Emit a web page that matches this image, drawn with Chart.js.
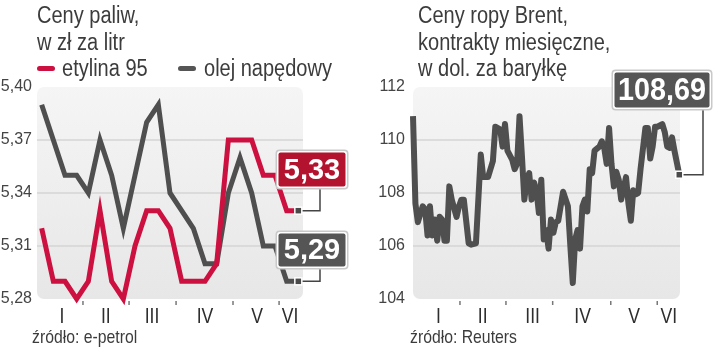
<!DOCTYPE html>
<html lang="pl">
<head>
<meta charset="utf-8">
<script src="https://cdn.jsdelivr.net/npm/chart.js@4.4.0/dist/chart.umd.min.js"></script>
<style>
body{margin:0;background:#fff;}
#wrap{position:relative;width:720px;height:351px;overflow:hidden;font-family:"Liberation Sans",Arial,sans-serif;color:#3c3c3c;}
canvas{position:absolute;top:0;}
.t{position:absolute;font-size:23px;line-height:26.5px;white-space:nowrap;transform:scaleX(0.87);transform-origin:0 0;}
.src{position:absolute;top:327px;font-size:19px;line-height:19px;white-space:nowrap;transform:scaleX(0.83);transform-origin:0 0;}
.dash{position:absolute;top:66px;width:18px;height:5px;border-radius:3px;}
</style>
</head>
<body>
<div id="wrap">
  <canvas id="fuel" width="360" height="351" style="left:0"></canvas>
  <canvas id="brent" width="360" height="351" style="left:360px"></canvas>

  <div class="t" style="left:37px;top:2px">Ceny paliw,<br>w zł za litr</div>
  <div class="dash" style="left:37px;background:#cc1040"></div>
  <div class="t" style="left:62px;top:55px">etylina 95</div>
  <div class="dash" style="left:178px;background:#555"></div>
  <div class="t" style="left:204px;top:55px">olej napędowy</div>
  <div class="src" style="left:32px">źródło: e-petrol</div>

  <div class="t" style="left:418px;top:2px">Ceny ropy Brent,<br>kontrakty miesięczne,<br>w dol. za baryłkę</div>
  <div class="src" style="left:410px">źródło: Reuters</div>
</div>
<script>
// ceny paliw, tygodniowo (styczeń - czerwiec)
var weeks = [0,1,2,3,4,5,6,7,8,9,10,11,12,13,14,15,16,17,18,19,20,21,22];
var etylina = [5.32,5.29,5.29,5.28,5.29,5.33,5.29,5.28,5.31,5.33,5.33,5.32,5.29,5.29,5.29,5.30,5.37,5.37,5.37,5.35,5.35,5.33,5.33];
var olej = [5.39,5.37,5.35,5.35,5.34,5.37,5.35,5.32,5.35,5.38,5.39,5.34,5.33,5.32,5.30,5.30,5.34,5.36,5.34,5.31,5.31,5.29,5.29];
var fuelTicks = [5.40,5.37,5.34,5.31,5.28];
var fuelGrid = [5.37,5.34,5.31];

// ropa Brent, notowania dzienne
var brentDays = [0,1,2,3,4,5,6,7,8,9,10,11,12,13,14,15,16,18,19,20,21,23,24,26,28,29,31,32,33,34,36,37,38,39,41,42,43,44,45,46,47,48,49,50,51,52,53,54,55,56,57,58,59,60,61,62,64,65,66,67,68,69,70,71,72,73,74,75,77,78,79,80,81,82,83,84,85,86,88,89,90,91,92,93,94,96,97,98,99,100,101,103,104,105,106,107,108,110];
var brent = [110.9,107.6,106.9,107.2,107.5,107.4,106.4,107.5,106.4,107.0,106.2,107.1,107.0,106.2,106.2,108.25,107.75,107.1,107.5,107.75,107.75,106.1,106.05,106.1,109.45,108.6,108.6,108.9,109.2,110.5,110.4,109.75,110.6,109.6,109.25,108.9,109.1,110.9,109.4,107.75,108.5,108.75,107.75,108.4,108.1,107.25,108.5,106.25,106.6,105.9,107.0,106.5,106.9,106.95,107.5,108.05,107.5,106.0,104.6,106.25,106.6,105.9,107.5,107.75,107.3,108.9,108.75,109.6,109.75,109.95,109.7,109.1,110.45,109.1,108.25,108.8,108.5,107.75,108.6,107.6,106.95,108.1,107.95,108.0,108.9,110.45,110.45,109.3,109.75,110.5,110.5,110.6,110.3,109.75,109.7,110.1,109.6,108.69];
var brentTicks = [112,110,108,106,104];
var brentGrid = [110,108,106];

var months = ['I','II','III','IV','V','VI'];
var fuelMonthPos = [1.74,5.5,9.46,14.0,18.46,21.3];
var fuelMonthTicks = [3.54,7.49,11.52,16.4,20.35];
var brentMonthPos = [10.5,28.8,49.4,70.1,91.3,105.7];
var brentMonthTicks = [19.4,38.4,57.7,81.7,100.9];

var RED = '#cc1040', RED_BOX = '#b3132f', GREY = '#4f4f4f';

function fmt(v, d){ return v.toFixed(d).replace('.', ','); }

var decoPlugin = {
  id: 'deco',
  beforeDatasetsDraw: function(chart, args, o){
    var ctx = chart.ctx, a = chart.chartArea, y = chart.scales.y;
    ctx.save();
    var g = ctx.createLinearGradient(0, a.top, 0, a.bottom);
    g.addColorStop(0, '#f5f5f5');
    g.addColorStop(1, '#e7e7e7');
    ctx.fillStyle = g;
    ctx.beginPath();
    ctx.roundRect(a.left, a.top, a.right - a.left, a.bottom - a.top, 7);
    ctx.fill();
    ctx.strokeStyle = '#d4d4d4';
    ctx.lineWidth = 1.5;
    o.grid.forEach(function(v){
      var py = y.getPixelForValue(v);
      ctx.beginPath(); ctx.moveTo(a.left, py); ctx.lineTo(a.right, py); ctx.stroke();
    });
    ctx.restore();
  },
  afterDraw: function(chart, args, o){
    var ctx = chart.ctx, x = chart.scales.x, y = chart.scales.y, a = chart.chartArea;
    ctx.save();
    ctx.fillStyle = '#444';
    ctx.font = '16px "Liberation Sans", sans-serif';
    ctx.textAlign = 'right';
    ctx.textBaseline = 'middle';
    o.ticks.forEach(function(v){
      ctx.fillText(fmt(v, o.dec), o.labelX, y.getPixelForValue(v));
    });
    ctx.fillStyle = '#2e2e2e';
    ctx.font = '22px "Liberation Sans", sans-serif';
    ctx.textAlign = 'center';
    ctx.textBaseline = 'alphabetic';
    o.monthPos.forEach(function(v, i){
      ctx.save();
      ctx.translate(x.getPixelForValue(v), 323);
      ctx.scale(0.8, 1);
      ctx.fillText(months[i], 0, 0);
      ctx.restore();
    });
    ctx.strokeStyle = '#777';
    ctx.lineWidth = 1.5;
    o.monthTicks.forEach(function(v){
      var px = x.getPixelForValue(v);
      ctx.beginPath(); ctx.moveTo(px, a.bottom + 2); ctx.lineTo(px, a.bottom + 6); ctx.stroke();
    });
    ctx.restore();
  }
};

var calloutPlugin = {
  id: 'callout',
  afterDatasetsDraw: function(chart, args, o){
    var ctx = chart.ctx;
    o.items.forEach(function(it){
      var data = chart.data.datasets[it.ds].data;
      var el = chart.getDatasetMeta(it.ds).data[data.length - 1];
      var last = data[data.length - 1];
      var val = typeof last === 'object' ? last.y : last;
      ctx.save();
      ctx.strokeStyle = '#444';
      ctx.lineWidth = 1.5;
      ctx.beginPath();
      ctx.moveTo(it.lineX, it.t + it.h);
      ctx.lineTo(it.lineX, el.y);
      ctx.lineTo(el.x, el.y);
      ctx.stroke();
      ctx.fillStyle = '#4a4a4a';
      ctx.strokeStyle = '#fff';
      ctx.lineWidth = 1.5;
      ctx.fillRect(el.x - 3.5, el.y - 3.5, 7, 7);
      ctx.strokeRect(el.x - 3.5, el.y - 3.5, 7, 7);
      ctx.beginPath();
      ctx.roundRect(it.l - 1.5, it.t - 1.5, it.w + 3, it.h + 3, 4);
      ctx.fillStyle = '#c9c9c9';
      ctx.fill();
      ctx.beginPath();
      ctx.roundRect(it.l, it.t, it.w, it.h, 3);
      ctx.fillStyle = '#fff';
      ctx.fill();
      ctx.beginPath();
      ctx.roundRect(it.l + 1.5, it.t + 1.5, it.w - 3, it.h - 3, 2);
      ctx.fillStyle = it.fill;
      ctx.fill();
      ctx.fillStyle = '#fff';
      ctx.font = 'bold ' + it.fs + 'px "Liberation Sans", sans-serif';
      ctx.textAlign = 'center';
      ctx.textBaseline = 'middle';
      ctx.fillText(fmt(val, 2), it.l + it.w / 2, it.t + it.h / 2 + 1, it.tw);
      ctx.restore();
    });
  }
};

var common = {
  responsive: false,
  animation: false,
  devicePixelRatio: 1,
  elements: { point: { radius: 0 }, line: { tension: 0 } }
};

new Chart(document.getElementById('fuel'), {
  type: 'line',
  data: {
    datasets: [
      { label: 'etylina 95', data: weeks.map(function(w, i){ return { x: w, y: etylina[i] }; }),
        borderColor: RED, borderWidth: 5, clip: false },
      { label: 'olej napędowy', data: weeks.map(function(w, i){ return { x: w, y: olej[i] }; }),
        borderColor: GREY, borderWidth: 5, clip: false }
    ]
  },
  options: Object.assign({}, common, {
    layout: { padding: { left: 37, right: 57, top: 87, bottom: 52 } },
    scales: {
      x: { type: 'linear', min: -0.4, max: 22.4, display: false },
      y: { min: 5.28, max: 5.40, display: false }
    },
    plugins: {
      legend: { display: false },
      tooltip: { enabled: false },
      deco: { grid: fuelGrid, ticks: fuelTicks, dec: 2, labelX: 32,
              monthPos: fuelMonthPos, monthTicks: fuelMonthTicks },
      callout: { items: [
        { ds: 0, l: 277, t: 151, w: 70, h: 37, lineX: 320, fill: RED_BOX, fs: 29, tw: 58 },
        { ds: 1, l: 277, t: 232, w: 70, h: 36, lineX: 320, fill: '#555', fs: 29, tw: 58 }
      ] }
    }
  }),
  plugins: [decoPlugin, calloutPlugin]
});

new Chart(document.getElementById('brent'), {
  type: 'line',
  data: {
    datasets: [
      { label: 'Brent', data: brentDays.map(function(d, i){ return { x: d, y: brent[i] }; }),
        borderColor: GREY, borderWidth: 6, borderJoinStyle: 'round', clip: false }
    ]
  },
  options: Object.assign({}, common, {
    layout: { padding: { left: 53, right: 40, top: 87, bottom: 52 } },
    scales: {
      x: { type: 'linear', min: 0, max: 110.3, display: false },
      y: { min: 104, max: 112, display: false }
    },
    plugins: {
      legend: { display: false },
      tooltip: { enabled: false },
      deco: { grid: brentGrid, ticks: brentTicks, dec: 0, labelX: 45,
              monthPos: brentMonthPos, monthTicks: brentMonthTicks },
      callout: { items: [
        { ds: 0, l: 253, t: 71, w: 98, h: 38, lineX: 343, fill: '#555', fs: 31, tw: 88 }
      ] }
    }
  }),
  plugins: [decoPlugin, calloutPlugin]
});
</script>
</body>
</html>
